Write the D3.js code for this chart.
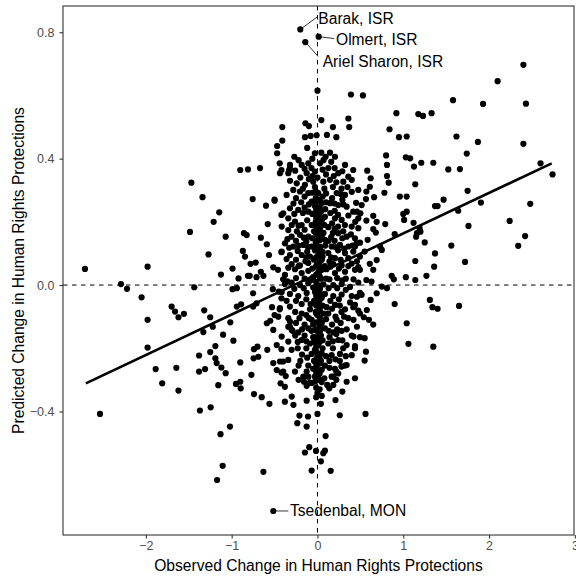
<!DOCTYPE html>
<html>
<head>
<meta charset="utf-8">
<script src="https://cdn.jsdelivr.net/npm/d3@7"></script>
<style>
  body { margin: 0; background: #fff; }
  text { font-family: "Liberation Sans", Arial, Helvetica, sans-serif; }
</style>
</head>
<body>
<div id="chart"></div>
<script>
// [observed, predicted] change in human rights protections
const points = [
  // upper left
  [-0.90,0.364],[-0.81,0.366],[-0.67,0.37],[-1.47,0.324],[-1.34,0.278],[-0.755,0.272],
  // upper middle
  [0.0,0.615],[0.39,0.603],[0.53,0.60],[0.92,0.544],[0.36,0.527],[0.37,0.50],[0.045,0.522],[-0.14,0.512],
  [-0.10,0.503],[0.18,0.50],[-0.41,0.50],[0.84,0.493],[0.11,0.475],[0.22,0.468],[-0.146,0.468],[-0.08,0.472],
  [-0.01,0.474],[0.95,0.468],[1.04,0.47],[-0.41,0.457],[-0.47,0.44],[-0.12,0.434],[-0.03,0.417],[0.045,0.419],
  [0.146,0.419],[-0.47,0.417],[-0.27,0.406],[0.095,0.406],[0.80,0.41],[1.03,0.404],[1.08,0.401],[-0.44,0.385],
  [-0.32,0.38],[0.81,0.38],[-0.42,0.364],[-0.33,0.364],[0.58,0.362],[0.62,0.338],[0.81,0.345],[0.83,0.324],
  [0.61,0.311],[0.57,0.296],[0.96,0.28],[1.04,0.28],[0.78,0.292],[-0.50,0.27],[0.204,0.406],
  // upper right
  [2.40,0.697],[2.10,0.645],[1.58,0.585],[1.93,0.573],[2.43,0.574],[1.175,0.541],[1.23,0.535],[1.33,0.544],
  [1.62,0.47],[1.87,0.453],[2.40,0.447],[1.74,0.416],[1.125,0.375],[1.21,0.387],[1.35,0.387],[1.525,0.366],
  [1.66,0.367],[2.60,0.385],[2.74,0.35],[1.14,0.319],[1.75,0.298],[1.47,0.27],
  // right
  [1.37,0.25],[1.40,0.25],[1.905,0.261],[2.48,0.257],[1.64,0.235],[1.04,0.232],[1.0,0.225],[1.01,0.206],
  [1.12,0.197],[2.24,0.203],[1.76,0.187],[1.19,0.18],[1.20,0.169],[1.16,0.164],[1.15,0.153],[2.42,0.155],
  [2.34,0.124],[1.25,0.135],[1.56,0.125],[1.37,0.10],[1.14,0.076],[1.72,0.073],[1.36,0.058],[1.03,0.025],
  [1.14,0.016],[1.27,0.029],[1.31,-0.047],[1.34,-0.07],[1.40,-0.075],[1.65,-0.066],[1.04,-0.121],[1.06,-0.186],
  [1.35,-0.195],
  // lower middle
  [-0.74,-0.345],[-0.65,-0.355],[-0.56,-0.376],[-0.43,-0.311],[-0.38,-0.322],[-0.30,-0.353],[-0.38,-0.369],
  [-0.28,-0.379],[-0.157,-0.306],[-0.087,-0.309],[-0.029,-0.306],[-0.126,-0.319],[0.114,-0.316],[0.138,-0.327],
  [0.34,-0.306],[0.29,-0.337],[0.21,-0.364],[0.0,-0.342],[0.05,-0.351],[-0.126,-0.366],[0.04,-0.376],
  [0.0,-0.408],[0.26,-0.412],[0.56,-0.408],[-0.21,-0.413],[-0.11,-0.416],[-0.235,-0.437],[-0.126,-0.448],
  [0.095,-0.478],[-0.096,-0.513],[-0.146,-0.53],[-0.017,-0.525],[0.087,-0.524],[0.068,-0.532],[0.04,-0.558],
  [-0.068,-0.587],[0.154,-0.588],[-0.63,-0.591],
  // lower left
  [-1.81,-0.311],[-1.62,-0.334],[-2.535,-0.408],[-1.37,-0.397],[-1.245,-0.387],[-1.156,-0.317],[-0.95,-0.313],
  [-0.90,-0.306],[-0.895,-0.327],[-1.02,-0.448],[-1.13,-0.472],[-1.105,-0.572],[-1.17,-0.617],
  // left
  [-1.145,0.23],[-1.21,0.20],[-1.486,0.168],[-1.07,0.153],[-0.857,0.164],[-0.825,0.158],[-0.87,0.108],
  [-0.845,0.09],[-1.27,0.097],[-2.71,0.051],[-1.98,0.058],[-0.99,0.052],[-1.125,0.033],[-0.92,0.021],
  [-0.81,0.029],[-2.29,0.003],[-2.22,-0.012],[-1.436,-0.007],[-0.99,-0.013],[-0.94,-0.01],[-2.05,-0.039],
  [-1.70,-0.068],[-1.66,-0.084],[-1.62,-0.102],[-1.556,-0.091],[-1.32,-0.08],[-1.25,-0.102],[-0.94,-0.068],
  [-0.89,-0.061],[-1.98,-0.11],[-1.016,-0.118],[-1.22,-0.132],[-1.33,-0.149],[-1.10,-0.157],[-0.98,-0.176],
  [-1.19,-0.193],[-1.98,-0.198],[-1.25,-0.212],[-1.38,-0.223],[-1.19,-0.232],[-1.175,-0.247],[-0.90,-0.245],
  [-1.886,-0.266],[-1.645,-0.262],[-1.38,-0.274],[-1.31,-0.266],[-1.12,-0.261],[-1.07,-0.279],
  // centre left
  [-0.60,0.251],[-0.50,0.267],[-0.58,0.193],[-0.42,0.222],[-0.66,0.15],[-0.59,0.129],[-0.565,0.095],
  [-0.42,0.104],[-0.78,0.067],[-0.72,0.071],[-0.66,0.042],[-0.63,0.029],[-0.515,0.056],[-0.46,0.048],
  [-0.79,0.029],[-0.71,0.025],[-0.40,0.018],[-0.38,0.003],[-0.52,-0.013],[-0.45,-0.021],[-0.75,-0.026],
  [-0.42,-0.042],[-0.75,-0.068],[-0.71,-0.058],[-0.53,-0.07],[-0.50,-0.095],[-0.44,-0.077],[-0.59,-0.121],
  [-0.55,-0.113],[-0.515,-0.142],[-0.32,-0.116],[-0.34,-0.132],[-0.30,-0.142],[-0.70,-0.195],[-0.74,-0.203],
  [-0.585,-0.205],[-0.475,-0.19],[-0.42,-0.203],[-0.745,-0.232],[-0.69,-0.227],[-0.515,-0.247],[-0.40,-0.242],
  [-0.475,-0.269],[-0.42,-0.277],[-0.37,-0.288],[-0.77,-0.284],
  // centre right
  [0.565,0.272],[0.66,0.278],[0.46,0.232],[0.50,0.227],[0.65,0.219],[0.69,0.20],[0.79,0.193],[0.57,0.204],
  [0.65,0.177],[0.68,0.166],[0.90,0.161],[0.585,0.143],[0.437,0.122],[0.495,0.134],[0.73,0.122],[0.75,0.111],
  [0.55,0.106],[0.69,0.079],[0.61,0.067],[0.65,0.048],[0.495,0.048],[0.865,0.029],[0.89,0.018],[0.57,0.016],
  [0.63,0.011],[0.75,-0.005],[0.81,-0.01],[0.46,-0.037],[0.515,-0.031],[0.69,-0.026],[0.62,-0.047],[0.90,-0.06],
  [0.437,-0.063],[0.476,-0.081],[0.575,-0.079],[0.54,-0.102],[0.60,-0.11],[0.65,-0.125],[0.46,-0.132],
  [0.42,-0.163],[0.55,-0.168],[0.437,-0.193],[0.565,-0.211],[0.55,-0.239],[0.34,-0.253],[0.28,-0.258],
  [0.22,-0.274],[0.185,-0.29],[-0.165,-0.29],[-0.126,-0.274],
  // centre, upper half
  [-0.321,0.37],[-0.184,0.38],[-0.107,0.385],[0.029,0.385],[0.126,0.37],[0.321,0.38],[0.417,0.364],
  [-0.437,0.354],[-0.34,0.354],[-0.126,0.354],[-0.029,0.359],[0.242,0.354],[0.359,0.343],
  [-0.242,0.322],[-0.146,0.317],[-0.049,0.327],[0.068,0.327],[0.146,0.333],[0.301,0.327],[0.399,0.333],
  [-0.282,0.301],[-0.204,0.296],[-0.107,0.291],[0.009,0.291],[0.224,0.291],[0.321,0.285],[0.476,0.301],
  [-0.068,0.264],[0.049,0.259],[0.146,0.259],[0.242,0.253],[0.34,0.248],[-0.321,0.243],[-0.224,0.238],[0.515,0.253],
  [-0.399,0.227],[-0.34,0.211],[-0.107,0.232],[-0.009,0.222],[0.087,0.216],[0.204,0.211],[0.282,0.206],
  [0.417,0.232],[0.476,0.211],
  [-0.262,0.201],[-0.184,0.19],[-0.417,0.185],[-0.34,0.174],[-0.068,0.19],[0.029,0.18],[0.126,0.183],
  [0.399,0.185],[0.476,0.18],
  [-0.301,0.153],[-0.204,0.159],[-0.107,0.153],[0.009,0.153],[0.087,0.143],[0.242,0.164],[0.34,0.153],[0.437,0.148],
  [-0.379,0.132],[-0.282,0.122],[-0.165,0.127],[-0.068,0.122],[0.029,0.116],[0.165,0.122],[0.262,0.127],
  [0.359,0.122],[0.457,0.132],
  [-0.417,0.106],[-0.321,0.095],[-0.184,0.095],[-0.087,0.09],[0.009,0.095],[0.126,0.101],[0.204,0.085],
  [0.321,0.101],[0.417,0.106],[0.495,0.09],
  [-0.301,0.066],[-0.204,0.062],[-0.107,0.07],[-0.009,0.064],[0.087,0.06],[0.184,0.066],[0.282,0.062],
  [0.399,0.068],[0.476,0.057],
  // centre, lower half
  [-0.379,0.032],[-0.262,0.05],[-0.184,0.038],[-0.107,0.045],[0.009,0.04],[0.107,0.05],[0.204,0.038],
  [0.321,0.042],[0.437,0.048],
  [-0.301,0.008],[-0.204,0.0],[-0.107,0.006],[-0.009,0.0],[0.068,0.002],[0.184,0.0],[0.282,0.003],
  [0.379,-0.006],[0.476,0.008],
  [-0.417,-0.022],[-0.321,-0.028],[-0.224,-0.035],[-0.126,-0.025],[-0.029,-0.022],[0.087,-0.028],
  [0.184,-0.035],[0.282,-0.03],[0.399,-0.035],[0.495,-0.025],
  [-0.437,-0.073],[-0.321,-0.068],[-0.184,-0.06],[-0.087,-0.077],[0.009,-0.057],[0.107,-0.07],[0.204,-0.063],
  [0.321,-0.077],[0.417,-0.07],[0.495,-0.09],
  [-0.34,-0.105],[-0.184,-0.09],[-0.068,-0.11],[0.029,-0.105],[0.126,-0.09],[0.224,-0.11],[0.359,-0.105],
  [-0.457,-0.1],
  [-0.321,-0.132],[-0.224,-0.15],[-0.107,-0.137],[-0.009,-0.145],[0.087,-0.137],[0.184,-0.15],[0.282,-0.145],
  [0.399,-0.16],[0.495,-0.165],[-0.417,-0.163],[-0.34,-0.179],
  [-0.184,-0.174],[-0.087,-0.185],[0.009,-0.19],[0.126,-0.185],[0.242,-0.174],[0.34,-0.19],[0.437,-0.2],
  [-0.301,-0.205],[-0.068,-0.218],[0.049,-0.215],[0.165,-0.222],[0.262,-0.218],[0.399,-0.222],
  [-0.437,-0.242],[-0.34,-0.237],[-0.107,-0.255],[-0.009,-0.26],[0.087,-0.255],[0.204,-0.265],[0.321,-0.255],
  [-0.399,-0.274],[-0.262,-0.274],[-0.107,-0.29],[0.009,-0.285],[0.165,-0.29],[0.242,-0.28],
  [-0.068,-0.31],[0.049,-0.307],[0.184,-0.316],[0.437,-0.295],
  // dense core
  [-0.2,0.34],[-0.06,0.345],[0.1,0.35],[0.19,0.345],
  [-0.17,0.305],[-0.03,0.31],[0.08,0.305],[0.18,0.31],[0.28,0.305],
  [-0.25,0.275],[-0.15,0.28],[-0.02,0.275],[0.06,0.28],[0.17,0.275],[0.29,0.27],
  [-0.15,0.245],[-0.03,0.25],[0.09,0.24],[0.2,0.235],
  [-0.12,0.205],[-0.02,0.2],[0.05,0.205],[0.17,0.195],[0.24,0.185],
  [-0.24,0.17],[-0.15,0.175],[-0.04,0.17],[0.07,0.165],[0.18,0.165],[0.3,0.17],
  [-0.13,0.138],[-0.02,0.135],[0.13,0.14],[0.2,0.14],
  [-0.23,0.108],[-0.12,0.105],[-0.03,0.11],[0.06,0.105],[0.24,0.11],
  [-0.25,0.08],[-0.14,0.075],[-0.04,0.08],[0.05,0.08],[0.14,0.075],[0.27,0.08],
  [-0.25,0.022],[-0.15,0.02],[-0.05,0.025],[0.04,0.02],[0.14,0.018],[0.23,0.022],[0.33,0.02],
  [-0.25,-0.05],[-0.13,-0.045],[-0.04,-0.05],[0.05,-0.04],[0.15,-0.05],[0.25,-0.045],
  [-0.26,-0.085],[-0.13,-0.095],[-0.02,-0.085],[0.07,-0.09],[0.17,-0.075],[0.28,-0.085],
  [-0.25,-0.12],[-0.15,-0.125],[-0.05,-0.125],[0.05,-0.12],[0.17,-0.125],[0.27,-0.12],
  [-0.26,-0.16],[-0.15,-0.16],[-0.05,-0.165],[0.04,-0.16],[0.14,-0.165],[0.22,-0.155],
  [-0.23,-0.2],[-0.13,-0.2],[-0.03,-0.205],[0.06,-0.2],[0.18,-0.2],[0.3,-0.2],
  [-0.2,-0.24],[-0.04,-0.24],[0.04,-0.24],[0.14,-0.24],
  // dense core, second layer
  [-0.22,0.395],[-0.06,0.40],[0.07,0.395],[0.16,0.39],
  [-0.26,0.362],[-0.15,0.368],[-0.07,0.37],[0.06,0.365],[0.2,0.37],[0.29,0.36],
  [-0.32,0.33],[-0.1,0.335],[0.0,0.34],[0.22,0.325],[0.35,0.31],
  [-0.36,0.285],[-0.06,0.292],[0.1,0.29],[0.27,0.288],[0.4,0.295],
  [-0.28,0.258],[-0.19,0.262],[-0.1,0.255],[0.1,0.262],[0.2,0.258],[0.3,0.255],[0.45,0.26],
  [-0.27,0.225],[-0.17,0.228],[-0.06,0.225],[0.04,0.232],[0.15,0.228],[0.24,0.222],[0.36,0.22],
  [-0.3,0.19],[-0.22,0.188],[0.08,0.19],[0.2,0.178],[0.32,0.19],[0.44,0.2],
  [-0.35,0.145],[-0.25,0.14],[-0.16,0.15],[-0.06,0.148],[0.05,0.155],[0.16,0.152],[0.29,0.148],[0.39,0.16],
  [-0.33,0.118],[-0.22,0.125],[-0.11,0.12],[-0.01,0.123],[0.09,0.125],[0.21,0.12],[0.31,0.115],[0.41,0.125],
  [-0.36,0.082],[-0.13,0.088],[0.06,0.09],[0.16,0.088],[0.36,0.085],[0.46,0.075],
  [-0.34,0.055],[-0.22,0.06],[-0.06,0.052],[0.05,0.055],[0.15,0.058],[0.25,0.052],[0.36,0.06],
  [-0.35,0.012],[-0.08,0.015],[0.1,0.02],[0.29,0.015],[0.42,0.018],
  [-0.27,-0.012],[-0.16,-0.01],[-0.05,-0.008],[0.03,-0.012],[0.13,-0.01],[0.23,-0.01],[0.33,-0.015],
  [-0.36,-0.05],[-0.08,-0.06],[0.06,-0.065],[0.26,-0.065],[0.38,-0.055],
  [-0.21,-0.105],[-0.1,-0.105],[0.0,-0.095],[0.1,-0.108],[0.21,-0.1],[0.31,-0.1],[0.42,-0.11],
  [-0.29,-0.145],[-0.18,-0.14],[-0.07,-0.145],[0.04,-0.14],[0.13,-0.145],[0.23,-0.14],[0.34,-0.14],
  [-0.23,-0.18],[-0.13,-0.178],[-0.04,-0.18],[0.06,-0.175],[0.18,-0.178],[0.29,-0.175],
  [-0.18,-0.22],[-0.12,-0.23],[0.0,-0.225],[0.1,-0.225],[0.21,-0.235],[0.33,-0.225],
  [-0.22,-0.255],[-0.05,-0.265],[0.05,-0.268],[0.14,-0.262],[0.26,-0.24],
  [-0.22,-0.3],[-0.03,-0.29],[0.08,-0.295],[0.22,-0.3],
  // dark column along zero observed change
  [-0.015,0.295],[-0.015,0.262],[-0.015,0.238],[-0.015,0.212],[-0.015,0.185],[-0.015,0.162],[-0.015,0.138],
  [-0.015,0.112],[-0.015,0.088],[-0.015,0.058],[-0.015,0.033],[-0.015,0.01],[-0.015,-0.015],[-0.015,-0.035],
  [-0.015,-0.065],[-0.015,-0.09],[-0.015,-0.118],[-0.015,-0.14],[-0.015,-0.165],[-0.015,-0.195],[-0.015,-0.21],
  [-0.015,-0.235],[-0.015,-0.25],[-0.015,-0.275],[-0.015,-0.325],[-0.015,-0.355],
  [0.025,0.27],[0.025,0.245],[0.025,0.215],[0.025,0.195],[0.025,0.168],[0.025,0.142],[0.025,0.122],[0.025,0.1],
  [0.025,0.072],[0.025,0.045],[0.025,0.028],[0.025,-0.002],[0.025,-0.025],[0.025,-0.048],[0.025,-0.075],
  [0.025,-0.082],[0.025,-0.13],[0.025,-0.152],[0.025,-0.172],[0.025,-0.18],[0.025,-0.228],[0.025,-0.248],
  [0.025,-0.28],[0.025,-0.3],[0.025,-0.33]
];

// labelled leaders: point, end of leader segment, label position
const labelled = [
  { name: "Barak, ISR",        x: -0.20,  y: 0.809,  sx: 0.0,   sy: 0.849, tx: 0.01,  ty: 0.844 },
  { name: "Olmert, ISR",       x: 0.014,  y: 0.786,  sx: 0.192, sy: 0.78,  tx: 0.216, ty: 0.776 },
  { name: "Ariel Sharon, ISR", x: -0.142, y: 0.769,  sx: 0.009, sy: 0.723, tx: 0.061, ty: 0.708 },
  { name: "Tsedenbal, MON",    x: -0.515, y: -0.715, sx: -0.34, sy: -0.715, tx: -0.32, ty: -0.715 }
];

const fitX = [-2.70, 2.73];
const fitY = [-0.311, 0.385];

const xTicks = [-2, -1, 0, 1, 2, 3];
const yTicks = [-0.4, 0.0, 0.4, 0.8];

const width = 576, height = 580;
const panel = { left: 63, right: 574, top: 6, bottom: 535 };

const svg = d3.select("#chart").append("svg")
  .attr("width", width)
  .attr("height", height);

svg.append("rect").attr("width", width).attr("height", height).attr("fill", "#fff");

const x = d3.scaleLinear().domain([-2.966, 2.99]).range([panel.left, panel.right]);
const y = d3.scaleLinear().domain([-0.791, 0.883]).range([panel.bottom, panel.top]);

const minus = s => s.replace("-", "\u2212");

// reference lines
svg.append("line")
  .attr("x1", x(0)).attr("x2", x(0))
  .attr("y1", panel.top).attr("y2", panel.bottom)
  .attr("stroke", "#000").attr("stroke-width", 1).attr("stroke-dasharray", "4.5,4.5");
svg.append("line")
  .attr("x1", panel.left).attr("x2", panel.right)
  .attr("y1", y(0)).attr("y2", y(0))
  .attr("stroke", "#000").attr("stroke-width", 1).attr("stroke-dasharray", "4.5,4.5");

// points
svg.append("g").selectAll("circle")
  .data(points.concat(labelled.map(d => [d.x, d.y])))
  .enter()
  .append("circle")
  .attr("cx", d => x(d[0]))
  .attr("cy", d => y(d[1]))
  .attr("r", 3.1)
  .attr("fill", "#000");

// fitted line
svg.append("line")
  .attr("x1", x(fitX[0])).attr("y1", y(fitY[0]))
  .attr("x2", x(fitX[1])).attr("y2", y(fitY[1]))
  .attr("stroke", "#000").attr("stroke-width", 2.6);

// labels
svg.append("g").selectAll("line")
  .data(labelled)
  .enter()
  .append("line")
  .attr("x1", d => x(d.x)).attr("y1", d => y(d.y))
  .attr("x2", d => x(d.sx)).attr("y2", d => y(d.sy))
  .attr("stroke", "#000").attr("stroke-width", 0.8);

svg.append("g").selectAll("text")
  .data(labelled)
  .enter()
  .append("text")
  .attr("x", d => x(d.tx))
  .attr("y", d => y(d.ty))
  .attr("dy", "0.35em")
  .attr("font-size", 15.6)
  .attr("fill", "#000")
  .text(d => d.name);

// panel border
svg.append("rect")
  .attr("x", panel.left).attr("y", panel.top)
  .attr("width", panel.right - panel.left)
  .attr("height", panel.bottom - panel.top)
  .attr("fill", "none")
  .attr("stroke", "#333").attr("stroke-width", 1.1);

// axes
const xAxis = svg.append("g")
  .attr("transform", `translate(0,${panel.bottom})`)
  .call(d3.axisBottom(x).tickValues(xTicks).tickSize(3.5).tickPadding(3).tickFormat(d => minus(d3.format("d")(d))));
const yAxis = svg.append("g")
  .attr("transform", `translate(${panel.left},0)`)
  .call(d3.axisLeft(y).tickValues(yTicks).tickSize(3.5).tickPadding(5).tickFormat(d => minus(d3.format(".1f")(d))));

[xAxis, yAxis].forEach(g => {
  g.select(".domain").remove();
  g.selectAll("line").attr("stroke", "#333").attr("stroke-width", 1.1);
  g.selectAll("text")
    .attr("fill", "#4d4d4d")
    .attr("font-size", 12.5)
    .attr("font-family", "'Liberation Sans', Arial, Helvetica, sans-serif");
});

svg.append("text")
  .attr("x", (panel.left + panel.right) / 2)
  .attr("y", 570.5)
  .attr("text-anchor", "middle")
  .attr("font-size", 15.6)
  .attr("fill", "#000")
  .text("Observed Change in Human Rights Protections");

svg.append("text")
  .attr("transform", `translate(24,${(panel.top + panel.bottom) / 2}) rotate(-90)`)
  .attr("text-anchor", "middle")
  .attr("font-size", 15.6)
  .attr("fill", "#000")
  .text("Predicted Change in Human Rights Protections");
</script>
</body>
</html>
